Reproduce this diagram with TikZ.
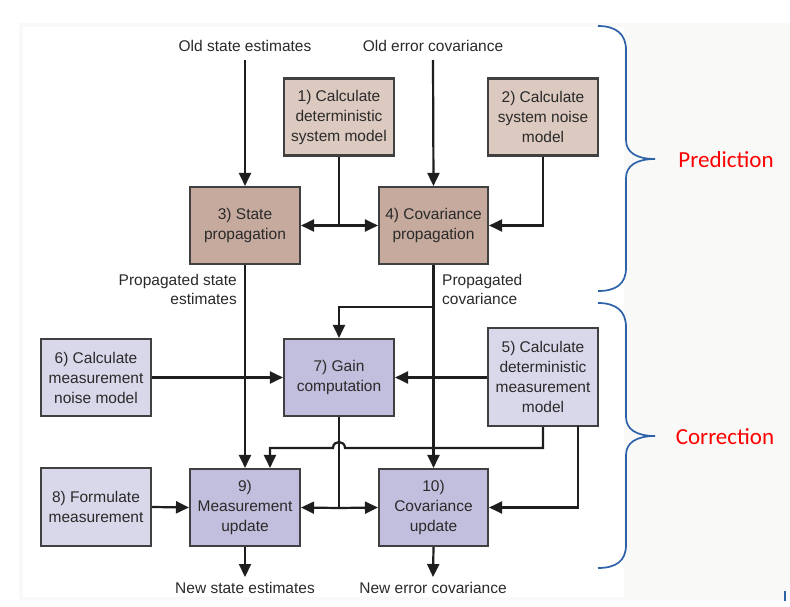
\documentclass[tikz,border=0pt]{standalone}
\usepackage{fontspec}
\setmainfont{Liberation Sans}
\newfontfamily\bracefont{Carlito}
\usetikzlibrary{arrows.meta,calc}
\definecolor{lbrown}{HTML}{DCC9BF}
\definecolor{dbrown}{HTML}{C5AA9D}
\definecolor{llav}{HTML}{D9D7EA}
\definecolor{dlav}{HTML}{C2BEDD}
\definecolor{panelgray}{HTML}{F9F9F8}
\definecolor{txtgray}{HTML}{2A2A2A}
\definecolor{linegray}{HTML}{1E1E1E}
\definecolor{braceblue}{HTML}{2E62A8}
\tikzset{
  boxbase/.style={draw=linegray!85, line width=2.1pt, rectangle, inner sep=0pt,
    minimum width=110pt, minimum height=77pt, align=center, text=txtgray,
    font=\fontsize{15.5}{20}\selectfont},
  lbox/.style={boxbase, fill=lbrown},
  dbox/.style={boxbase, fill=dbrown},
  llbox/.style={boxbase, fill=llav},
  dlbox/.style={boxbase, fill=dlav},
  lbl/.style={text=txtgray, inner sep=0pt, font=\fontsize{15.5}{19}\selectfont},
  conn/.style={draw=linegray, line width=2.2pt},
  arr/.style={conn, -{Triangle[length=13pt,width=12pt]}},
  brc/.style={draw=braceblue, line width=1.7pt},
  bracelabel/.style={text=red, inner sep=0pt, font=\bracefont\fontsize{23}{27}\selectfont}
}
\begin{document}
\begin{tikzpicture}[x=1pt,y=-1pt]
\useasboundingbox (0,0) rectangle (790,607);
\fill[white] (0,0) rectangle (790,607);
\fill[panelgray] (19,23) rectangle (790,600);
\fill[white] (23,27) rectangle (624,597);

% boxes
\node[lbox] (b1) at (339,117) {1) Calculate\\deterministic\\system model};
\node[lbox] (b2) at (543,117) {2) Calculate\\system noise\\model};
\node[dbox] (b3) at (245,225.5) {3) State\\propagation};
\node[dbox, minimum width=109pt] (b4) at (433.5,225.5) {4) Covariance\\propagation};
\node[llbox, minimum height=98pt] (b5) at (543,377) {5) Calculate\\deterministic\\measurement\\model};
\node[llbox] (b6) at (96,377.5) {6) Calculate\\measurement\\noise model};
\node[dlbox] (b7) at (339,377.5) {7) Gain\\computation};
\node[llbox, minimum height=78pt] (b8) at (96,507) {8) Formulate\\measurement};
\node[dlbox] (b9) at (245,507.5) {9)\\Measurement\\update};
\node[dlbox, minimum width=109pt] (b10) at (433.5,507.5) {10)\\Covariance\\update};

% labels
\node[lbl] (los) at (245,46) {Old state estimates};
\node[lbl] (loe) at (433,46) {Old error covariance};
\node[lbl, align=right, anchor=east] (lps) at (237,289.5) {Propagated state\\estimates};
\node[lbl, align=left, anchor=west] (lpc) at (442,289.5) {Propagated\\covariance};
\node[lbl] (lns) at (245,588) {New state estimates};
\node[lbl] (lne) at (433,588) {New error covariance};

% coordinates
\coordinate (os) at (245,60);
\coordinate (oe) at (433,60);
\coordinate (j1) at (339,225.5);
\coordinate (j2) at (433,307);
\coordinate (j3) at (339,508);
\coordinate (ns) at (245,577);
\coordinate (ne) at (433,577);
\coordinate (h1) at (543,448);
\coordinate (h2) at (345,448);
\coordinate (h3) at (333,448);
\coordinate (h4) at (270,448);
\coordinate (b5r) at (578,426);

% connectors
\draw[arr] (os) -- (b3.north);
\draw[arr] (oe) -- (b4.north);
\draw[conn] (b1.south) -- (j1);
\draw[arr] (j1) -- (b3.east);
\draw[arr] (j1) -- (b4.west);
\draw[arr] (b2.south) |- (b4.east);
\draw[arr] (b3.south) -- (b9.north);
\draw[arr] (b4.south) -- (b10.north);
\draw[arr] (j2) -| (b7.north);
\draw[arr] (b6.east) -- (b7.west);
\draw[arr] (b5.west |- b7.east) -- (b7.east);
\draw[conn] (b7.south) -- (j3);
\draw[arr] (j3) -- (b9.east);
\draw[arr] (j3) -- (b10.west);
\draw[arr] (b5.south) -- (h1) -- (h2) .. controls (345,440) and (333,440) .. (h3) -- (h4) -- (h4 |- b9.north);
\draw[arr] (b5r) |- (b10.east);
\draw[arr] (b8.east) -- (b9.west);
\draw[arr] (b9.south) -- (ns);
\draw[arr] (b10.south) -- (ne);

% braces
\draw[brc] (598,26) .. controls (616,26) and (626,34) .. (626,50) -- (626,140)
  .. controls (626,152) and (636,159) .. (655,159)
  .. controls (636,159) and (626,166) .. (626,178) -- (626,268)
  .. controls (626,284) and (616,291) .. (598,291);
\draw[brc] (598,303) .. controls (616,303) and (626,311) .. (626,327) -- (626,417)
  .. controls (626,429) and (636,436) .. (655,436)
  .. controls (636,436) and (626,443) .. (626,455) -- (626,545)
  .. controls (626,561) and (616,568) .. (598,568);
\node[bracelabel] (pred) at (726,160) {Prediction};
\node[bracelabel] (corr) at (725,437) {Correction};
\draw[braceblue, line width=2pt] (785,591) -- (785,601);
\end{tikzpicture}
\end{document}
